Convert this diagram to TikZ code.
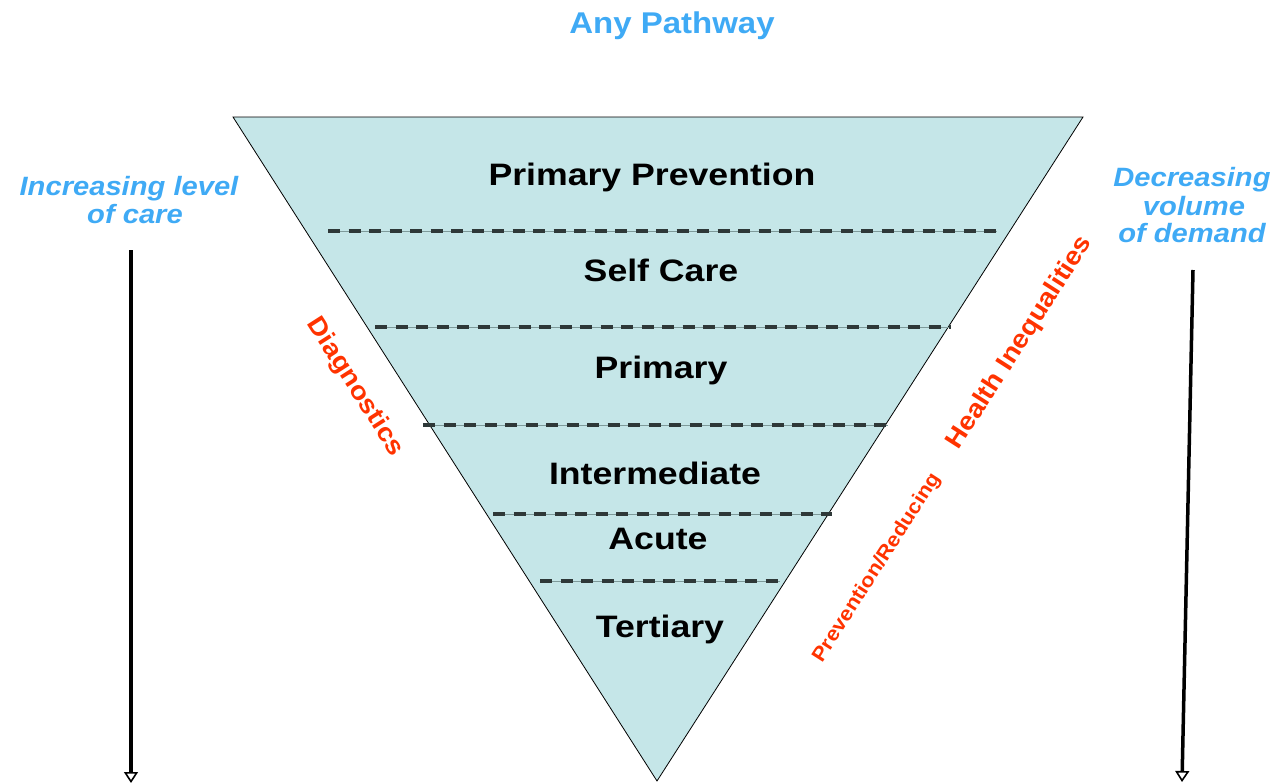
\documentclass[tikz,border=0pt]{standalone}
\usepackage{fontspec}
\setmainfont{Liberation Sans}
\newfontfamily\blackfont[FakeStretch=1.15]{Liberation Sans}
\newfontfamily\bluefont[FakeStretch=1.1]{Liberation Sans}
\usetikzlibrary{arrows.meta}
\definecolor{fillcyan}{HTML}{C5E6E8}
\definecolor{skyblue}{HTML}{3FAAF5}
\definecolor{redtxt}{HTML}{FF3300}
\definecolor{dashgray}{HTML}{2E3838}
\definecolor{linegray}{HTML}{7E9A9A}
\begin{document}
\begin{tikzpicture}[x=1pt,y=-1pt,
  level/.style={font=\blackfont\bfseries\fontsize{31}{31}\selectfont, anchor=base, inner sep=0pt},
  bluelabel/.style={font=\bluefont\bfseries\fontsize{26.5}{29}\selectfont, text=skyblue, inner sep=0pt, anchor=base},
  redlabel/.style={font=\bluefont\bfseries\fontsize{25.5}{25.5}\selectfont, text=redtxt, inner sep=0pt},
  divider/.style={line width=3.5pt, dashgray, dash pattern=on 12pt off 8.5pt},
  guide/.style={line width=0.9pt, linegray},
  bigarrow/.style={line width=3.5pt, -{Triangle[open, width=14pt, length=11pt, line width=1.6pt]}}
]
\useasboundingbox (0,0) rectangle (1278,784);
% triangle
\coordinate (tl) at (233,117);
\coordinate (tr) at (1083,117);
\coordinate (bt) at (657,781);
\fill[fillcyan] (tl) -- (tr) -- (bt) -- cycle;
\draw[line width=0.8pt] (tl) -- (tr) -- (bt) -- cycle;
% dividers
\foreach \y/\xa/\xb [count=\i] in {231/328/997, 327/375/951, 425/423/888, 514/493/832, 581/540/780}{
  \coordinate (d\i a) at (\xa,\y);
  \coordinate (d\i b) at (\xb,\y);
  \draw[guide] (d\i a) -- (d\i b);
  \draw[divider] (d\i a) -- (d\i b);
}
% level texts
\node[level] (pp) at (652,185) {Primary Prevention};
\node[level] (sc) at (661,281) {Self Care};
\node[level] (pr) at (661,378) {Primary};
\node[level] (im) at (655,484) {Intermediate};
\node[level] (ac) at (658,549) {Acute};
\node[level] (te) at (660,637) {Tertiary};
% title
\node[font=\bluefont\bfseries\fontsize{30}{30}\selectfont, text=skyblue, anchor=base, inner sep=0pt] (title) at (672,34) {Any Pathway};
% side labels
\node[bluelabel] (inc1) at (129,195) {\itshape Increasing level};
\node[bluelabel] (inc2) at (135,223) {\itshape of care};
\node[bluelabel] (dec1) at (1192,186) {\itshape Decreasing};
\node[bluelabel] (dec2) at (1194,215) {\itshape volume};
\node[bluelabel] (dec3) at (1192,242) {\itshape of demand};
% rotated red labels
\node[redlabel, rotate=-57.4] (diag) at (355,387) {Diagnostics};
\node[redlabel, rotate=57.4] (hi) at (1020,343) {Health Inequalities};
\node[redlabel, rotate=57.4, font=\bluefont\bfseries\fontsize{20}{20}\selectfont] (prv) at (877,568) {Prevention/Reducing};
% arrows
\coordinate (la0) at (131,250);
\coordinate (la1) at (131,783);
\coordinate (ra0) at (1193,270);
\coordinate (ra1) at (1182,782);
\draw[bigarrow] (la0) -- (la1);
\draw[bigarrow] (ra0) -- (ra1);
\end{tikzpicture}
\end{document}
